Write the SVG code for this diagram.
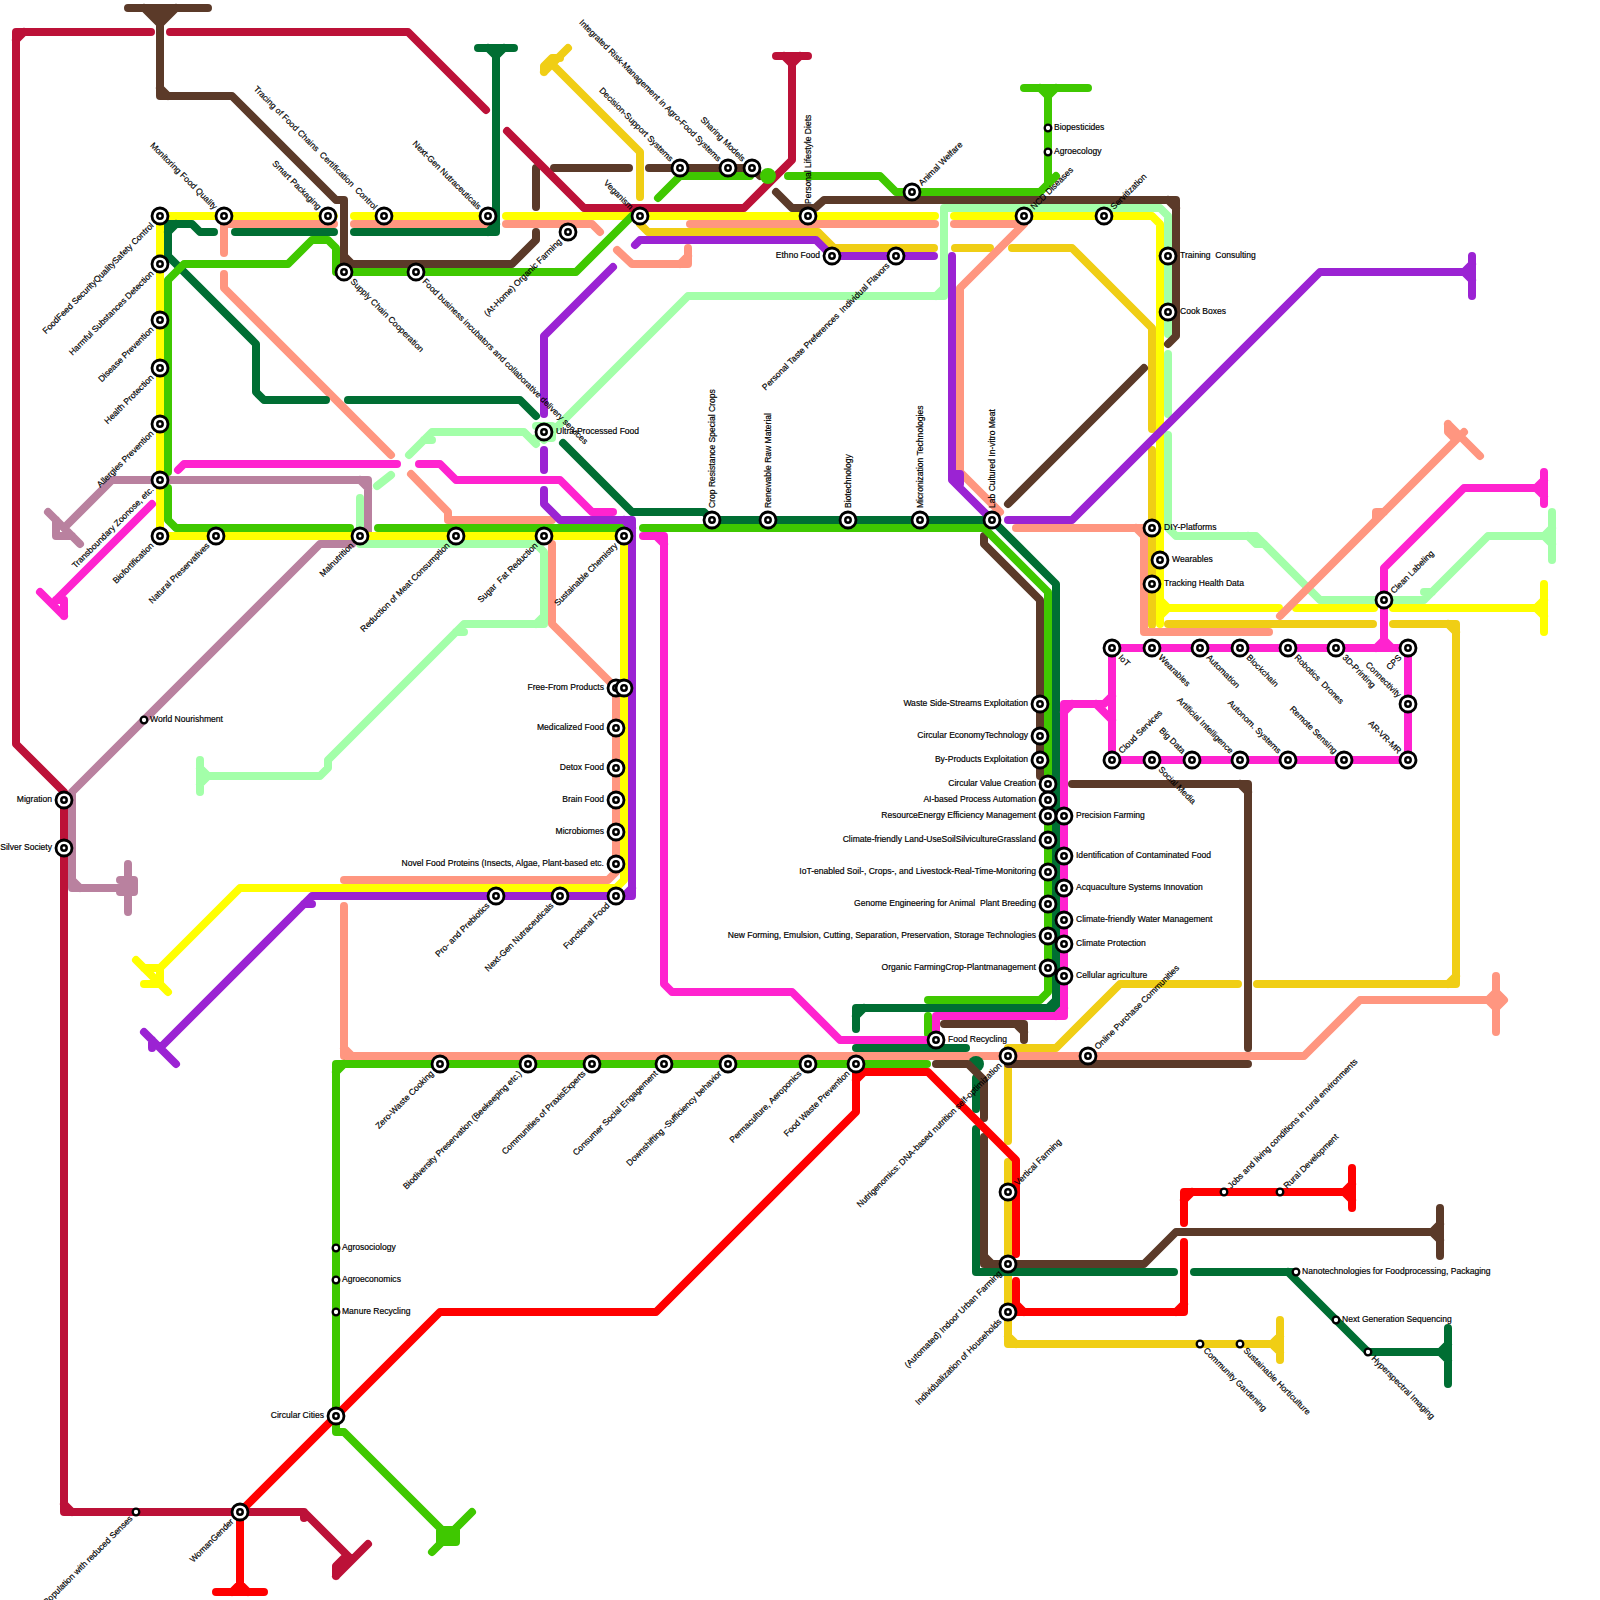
<svg xmlns="http://www.w3.org/2000/svg" width="1600" height="1600" viewBox="0 0 1600 1600">
<style>
text{font-family:"Liberation Sans",Arial,sans-serif;font-size:8.55px;fill:#000;stroke:#000;stroke-width:.18px;dominant-baseline:central;white-space:pre}
.e{text-anchor:end}
path{fill:none;stroke-width:8;stroke-linecap:round;stroke-linejoin:round}
.crimson{stroke:#bc1138}.brown{stroke:#5b3a29}.green{stroke:#3fc800}.lime{stroke:#a3ffa9}.salmon{stroke:#ff9680}
.magenta{stroke:#ff23cf}.purple{stroke:#9b23d3}.gold{stroke:#f0ce15}.yellow{stroke:#ffff00}.red{stroke:#ff0000}.dark{stroke:#006e33}.mauve{stroke:#b9819f}
</style>
<defs>
<g id="b"><circle r="8" fill="#fff" stroke="#000" stroke-width="2.8"/><circle r="2.7" fill="#fff" stroke="#000" stroke-width="2.5"/></g>
<circle id="t" r="3.3" fill="#fff" stroke="#000" stroke-width="2.3"/>
</defs>
<g id="connectors">
<path class="mauve" d="M48 512L80 544M56 520V536H72M64 528L112 480H368V532M360 480L368 488M352 544H320L72 792V888H128M128 864V912M120 880H134V892H120M72 880L80 888"/>
<path class="lime" d="M200 760V792M208 776L200 768M208 776L200 784M200 776H320L328 768V760L464 624H544V552L536 544H360M456 632H464M536 624L544 616M360 498V536M377 486L391 475M409 455L432 432H524L536 444M424 440H432M544 440L688 296H944V208H1160L1168 216V334M936 296L944 288M1168 354V414M1168 435V528L1176 536H1256L1320 600H1424L1488 536H1552M1552 512V560M1544 536L1552 528M1544 536L1552 544M536 426H552V438H536M1248 536L1256 544H1264M1424 592H1432"/>
<path class="yellow" d="M160 216H334M354 216H488M506 216H935M954 216H1152L1160 224V624M1160 600L1168 608H1279M1296 608H1374M1393 608H1544M1160 616L1168 608M1544 584V632M1536 608L1544 600M1536 608L1544 616M160 216V536H624V880L616 888H240L160 968M136 960L168 992M144 968H160V984H144"/>
<path class="gold" d="M640 197V152L552 64M544 72L568 48M544 72V66L552 58H560M640 224L648 232H818L834 248H934M955 248H990M1012 248H1072L1152 328V429M1152 450V625M1168 624H1373M1393 624H1456V984H1257M1448 624L1456 632M1448 984L1456 976M1238 984H1120L1056 1048H1008V1141M1008 1162V1344H1280M1008 1336L1016 1344M1280 1320V1360M1272 1344L1280 1336M1272 1344L1280 1352"/>
<path class="salmon" d="M224 224H334M354 224H486M506 224H592L600 232M617 250L632 264H688V248M688 256L680 264M690 224H935M954 224H1016M1024 224L960 288V472L1000 512M1016 528H1144V632H1269M1136 528L1144 536M224 224V253M224 274V288L391 455M411 474L448 512V520H552M552 544V624L616 688V872L608 880H344M344 906V1056H1304L1360 1000H1496M344 1048L352 1056M1496 976V1032M1488 1000L1496 992L1504 1000L1496 1008ZM1280 616L1464 432M1448 424L1480 456M1448 424V432L1456 440M1376 512H1384M1376 512V518"/>
<path class="dark" d="M478 48H514M488 48L496 56L504 48M496 48V232H354M488 232L496 224M334 232H235M214 232H200L192 224H168V256L256 344V392L264 400H326M348 400H520L536 416M168 232L176 224M563 443L632 512H704L712 520H992L1056 584V1008H856V1029M856 1016L864 1008M1048 1008L1056 1000M856 1048H966M976 1078V1109M976 1129V1272H1174M1194 1272H1296M1288 1272L1368 1352H1448M1448 1328V1384M1440 1352L1448 1344M1440 1352L1448 1360"/>
<circle cx="976" cy="1064" r="8" fill="#006e33"/>
<path class="brown" d="M128 8H208M144 8L160 24L176 8M150 12H170M156 17H164M160 8V96H232L336 200H344V264H512L536 240V232M160 88L168 96M344 256L352 264M536 207V168M554 168H629M649 168H752L760 176M776 192L792 208H815L824 200H1176V336L1168 344M1168 200L1176 208M1144 368L1008 504M984 536V544L1040 600V776M1072 784H1248V1048M1240 784L1248 792M1248 1064H1008M936 1064H968L984 1080V1118M984 1137V1264H1144L1176 1232H1440M984 1256L992 1264M1440 1208V1256M1432 1232L1440 1224M1432 1232L1440 1240M944 1024H1024V1040M1016 1024L1024 1032"/>
<path class="green" d="M336 272V248L328 240H312L288 264H184L168 280V472M168 488V520L176 528H350M378 528H628M643 528H984L1048 592V992L1040 1000H928M344 272H576L632 216M658 198L680 176H750M788 176H880L896 192H1040L1056 176M1048 184V88M1024 88H1088M1040 88L1048 96L1056 88M928 1016V1034M927 1064H336V1432H344L448 1536M336 1072L344 1064M432 1552L472 1512M440 1530H456V1542H440Z"/>
<path class="crimson" d="M352 1560L304 1512H64V792L16 744V32H151M16 40L24 32M64 1504L72 1512M304 1512V1518M336 1576L368 1544M336 1576V1566L344 1558H352M170 32H408L486 110M507 131L584 208H744L792 160V56M776 56H808M784 56L792 64L800 56"/>
<circle cx="768" cy="176" r="8" fill="#3fc800"/>
<path class="red" d="M240 1592V1512L440 1312H656L856 1112V1072H928L1012 1156L1016 1160V1254M856 1080L864 1072M216 1592H264M232 1592L240 1584L248 1592M1016 1281V1312H1184V1242M1016 1304L1024 1312M1176 1312L1184 1304M1184 1223V1192H1352M1184 1200L1192 1192M1352 1168V1208M1344 1192L1352 1184M1344 1192L1352 1200"/>
<path class="magenta" d="M178 470L184 464H397M419 464H440L456 480H560L592 512H613M643 536H664V984L672 992H792L840 1040H936V1016H1064V704H1104L1112 696M656 536L664 544M1096 704L1112 720M1064 712L1072 704M1056 1016L1064 1008M1112 648H1408V760H1112ZM1384 648V568L1464 488H1544M1544 472V504M1536 488L1544 480M1536 488L1544 496M1376 648L1384 640L1392 648M152 504L56 600M40 592L64 616M56 600H64V616"/>
<path class="purple" d="M144 1032L176 1064M152 1048V1040M160 1048L312 896H632V520H560L544 504V490M304 904H312M624 896L632 888M624 520L632 528M544 470V450M544 414V336L613 267M635 245L640 240H816L832 256H934M952 256V480L992 520M952 474L960 474V484M1008 520H1072L1320 272H1472M1472 256V296M1464 272L1472 264M1464 272L1472 280"/>
</g>
<g id="n1"><use href="#b" x="160" y="216"/><text class="e" x="152" y="224" transform="rotate(-45 152 224)">FoodFeed SecurityQualitySafety Control</text></g>
<g id="n2"><use href="#b" x="160" y="264"/><text class="e" x="152" y="272" transform="rotate(-45 152 272)">Harmful Substances Detection</text></g>
<g id="n3"><use href="#b" x="160" y="320"/><text class="e" x="152" y="328" transform="rotate(-45 152 328)">Disease Prevention</text></g>
<g id="n4"><use href="#b" x="160" y="368"/><text class="e" x="152" y="376" transform="rotate(-45 152 376)">Health Protection</text></g>
<g id="n5"><use href="#b" x="160" y="424"/><text class="e" x="152" y="432" transform="rotate(-45 152 432)">Allergies Prevention</text></g>
<g id="n6"><use href="#b" x="160" y="480"/><text class="e" x="152" y="488" transform="rotate(-45 152 488)">Transboundary Zoonose, etc.</text></g>
<g id="n7"><use href="#b" x="160" y="536"/><text class="e" x="152" y="544" transform="rotate(-45 152 544)">Biofortification</text></g>
<g id="n8"><use href="#b" x="216" y="536"/><text class="e" x="208" y="544" transform="rotate(-45 208 544)">Natural Preservatives</text></g>
<g id="n9"><use href="#b" x="360" y="536"/><text class="e" x="352" y="544" transform="rotate(-45 352 544)">Malnutrition</text></g>
<g id="n10"><use href="#b" x="456" y="536"/><text class="e" x="448" y="544" transform="rotate(-45 448 544)">Reduction of Meat Consumption</text></g>
<g id="n11"><use href="#b" x="544" y="536"/><text class="e" x="536" y="544" transform="rotate(-45 536 544)">Sugar  Fat Reduction</text></g>
<g id="n12"><use href="#b" x="624" y="536"/><text class="e" x="616" y="544" transform="rotate(-45 616 544)">Sustainable Chemistry</text></g>
<g id="n13"><use href="#b" x="224" y="216"/><text class="e" x="216" y="208" transform="rotate(45 216 208)">Monitoring Food Quality</text></g>
<g id="n14"><use href="#b" x="328" y="216"/><text class="e" x="320" y="208" transform="rotate(45 320 208)">Smart Packaging</text></g>
<g id="n15"><use href="#b" x="384" y="216"/><text class="e" x="376" y="208" transform="rotate(45 376 208)">Tracing of Food Chains  Certification  Control</text></g>
<g id="n16"><use href="#b" x="488" y="216"/><text class="e" x="480" y="208" transform="rotate(45 480 208)">Next-Gen Nutraceuticals</text></g>
<g id="n17"><use href="#b" x="344" y="272"/><text x="352" y="280" transform="rotate(45 352 280)">Supply Chain Cooperation</text></g>
<g id="n18"><use href="#b" x="416" y="272"/><text x="424" y="280" transform="rotate(45 424 280)">Food business incubators and collaborative delivery services</text></g>
<g id="n19"><use href="#b" x="568" y="232"/><text class="e" x="560" y="240" transform="rotate(-45 560 240)">(At-Home) Organic Farming</text></g>
<g id="n20"><use href="#b" x="640" y="216"/><text class="e" x="632" y="208" transform="rotate(45 632 208)">Veganism</text></g>
<g id="n21"><use href="#b" x="680" y="168"/><text class="e" x="672" y="160" transform="rotate(45 672 160)">Decision-Support Systems</text></g>
<g id="n22"><use href="#b" x="728" y="168"/><text class="e" x="720" y="160" transform="rotate(45 720 160)">Integrated Risk-Management in Agro-Food Systems</text></g>
<g id="n23"><use href="#b" x="752" y="168"/><text class="e" x="744" y="160" transform="rotate(45 744 160)">Sharing Models</text></g>
<g id="n24"><use href="#b" x="808" y="216"/><text x="808" y="204" transform="rotate(-90 808 204)">Personal Lifestyle Diets</text></g>
<g id="n25"><use href="#b" x="912" y="192"/><text x="920" y="184" transform="rotate(-45 920 184)">Animal Welfare</text></g>
<g id="n26"><use href="#b" x="1024" y="216"/><text x="1032" y="208" transform="rotate(-45 1032 208)">NCD Diseases</text></g>
<g id="n27"><use href="#b" x="1104" y="216"/><text x="1112" y="208" transform="rotate(-45 1112 208)">Servitization</text></g>
<g id="n28"><use href="#b" x="832" y="256"/><text class="e" x="820" y="255">Ethno Food</text></g>
<g id="n29"><use href="#b" x="896" y="256"/><text class="e" x="888" y="264" transform="rotate(-45 888 264)">Personal Taste Preferences  Individual Flavors</text></g>
<g id="n30"><use href="#b" x="544" y="432"/><text x="556" y="431">Ultra-Processed Food</text></g>
<g id="n31"><use href="#b" x="712" y="520"/><text x="712" y="508" transform="rotate(-90 712 508)">Crop Resistance Special Crops</text></g>
<g id="n32"><use href="#b" x="768" y="520"/><text x="768" y="508" transform="rotate(-90 768 508)">Renewable Raw Material</text></g>
<g id="n33"><use href="#b" x="848" y="520"/><text x="848" y="508" transform="rotate(-90 848 508)">Biotechnology</text></g>
<g id="n34"><use href="#b" x="920" y="520"/><text x="920" y="508" transform="rotate(-90 920 508)">Micronization Technologies</text></g>
<g id="n35"><use href="#b" x="992" y="520"/><text x="992" y="508" transform="rotate(-90 992 508)">Lab Cultured In-vitro Meat</text></g>
<g id="n36"><use href="#b" x="1168" y="256"/><text x="1180" y="255">Training  Consulting</text></g>
<g id="n37"><use href="#b" x="1168" y="312"/><text x="1180" y="311">Cook Boxes</text></g>
<g id="n38"><use href="#b" x="1152" y="528"/><text x="1164" y="527">DIY-Platforms</text></g>
<g id="n39"><use href="#b" x="1160" y="560"/><text x="1172" y="559">Wearables</text></g>
<g id="n40"><use href="#b" x="1152" y="584"/><text x="1164" y="583">Tracking Health Data</text></g>
<g id="n41"><use href="#b" x="1384" y="600"/><text x="1392" y="592" transform="rotate(-45 1392 592)">Clean Labeling</text></g>
<g id="n42"><use href="#b" x="1112" y="648"/><text x="1120" y="656" transform="rotate(45 1120 656)">IoT</text></g>
<g id="n43"><use href="#b" x="1152" y="648"/><text x="1160" y="656" transform="rotate(45 1160 656)">Wearables</text></g>
<g id="n44"><use href="#b" x="1200" y="648"/><text x="1208" y="656" transform="rotate(45 1208 656)">Automation</text></g>
<g id="n45"><use href="#b" x="1240" y="648"/><text x="1248" y="656" transform="rotate(45 1248 656)">Blockchain</text></g>
<g id="n46"><use href="#b" x="1288" y="648"/><text x="1296" y="656" transform="rotate(45 1296 656)">Robotics  Drones</text></g>
<g id="n47"><use href="#b" x="1336" y="648"/><text x="1344" y="656" transform="rotate(45 1344 656)">3D-Printing</text></g>
<g id="n48"><use href="#b" x="1408" y="648"/><text class="e" x="1400" y="656" transform="rotate(-45 1400 656)">CPS</text></g>
<g id="n49"><use href="#b" x="1408" y="704"/><text class="e" x="1400" y="696" transform="rotate(45 1400 696)">Connectivity</text></g>
<g id="n50"><use href="#b" x="1408" y="760"/><text class="e" x="1400" y="752" transform="rotate(45 1400 752)">AR-VR-MR</text></g>
<g id="n51"><use href="#b" x="1344" y="760"/><text class="e" x="1336" y="752" transform="rotate(45 1336 752)">Remote Sensing</text></g>
<g id="n52"><use href="#b" x="1288" y="760"/><text class="e" x="1280" y="752" transform="rotate(45 1280 752)">Autonom. Systems</text></g>
<g id="n53"><use href="#b" x="1240" y="760"/><text class="e" x="1232" y="752" transform="rotate(45 1232 752)">Artificial Intelligence</text></g>
<g id="n54"><use href="#b" x="1192" y="760"/><text class="e" x="1184" y="752" transform="rotate(45 1184 752)">Big Data</text></g>
<g id="n55"><use href="#b" x="1112" y="760"/><text x="1120" y="752" transform="rotate(-45 1120 752)">Cloud Services</text></g>
<g id="n56"><use href="#b" x="1152" y="760"/><text x="1160" y="768" transform="rotate(45 1160 768)">Social Media</text></g>
<g id="n57"><use href="#b" x="616" y="688"/><text class="e" x="604" y="687">Free-From Products</text></g>
<g id="n58"><use href="#b" x="624" y="688"/></g>
<g id="n59"><use href="#b" x="616" y="728"/><text class="e" x="604" y="727">Medicalized Food</text></g>
<g id="n60"><use href="#b" x="616" y="768"/><text class="e" x="604" y="767">Detox Food</text></g>
<g id="n61"><use href="#b" x="616" y="800"/><text class="e" x="604" y="799">Brain Food</text></g>
<g id="n62"><use href="#b" x="616" y="832"/><text class="e" x="604" y="831">Microbiomes</text></g>
<g id="n63"><use href="#b" x="616" y="864"/><text class="e" x="604" y="863">Novel Food Proteins (Insects, Algae, Plant-based etc.</text></g>
<g id="n64"><use href="#b" x="616" y="896"/><text class="e" x="608" y="904" transform="rotate(-45 608 904)">Functional Food</text></g>
<g id="n65"><use href="#b" x="560" y="896"/><text class="e" x="552" y="904" transform="rotate(-45 552 904)">Next-Gen Nutraceuticals</text></g>
<g id="n66"><use href="#b" x="496" y="896"/><text class="e" x="488" y="904" transform="rotate(-45 488 904)">Pro- and Prebiotics</text></g>
<g id="n67"><use href="#t" x="144" y="720"/><text x="150" y="719">World Nourishment</text></g>
<g id="n68"><use href="#b" x="64" y="800"/><text class="e" x="52" y="799">Migration</text></g>
<g id="n69"><use href="#b" x="64" y="848"/><text class="e" x="52" y="847">Silver Society</text></g>
<g id="n70"><use href="#b" x="1040" y="704"/><text class="e" x="1028" y="703">Waste Side-Streams Exploitation</text></g>
<g id="n71"><use href="#b" x="1040" y="736"/><text class="e" x="1028" y="735">Circular EconomyTechnology</text></g>
<g id="n72"><use href="#b" x="1040" y="760"/><text class="e" x="1028" y="759">By-Products Exploitation</text></g>
<g id="n73"><use href="#b" x="1048" y="784"/><text class="e" x="1036" y="783">Circular Value Creation</text></g>
<g id="n74"><use href="#b" x="1048" y="800"/><text class="e" x="1036" y="799">AI-based Process Automation</text></g>
<g id="n75"><use href="#b" x="1048" y="816"/><text class="e" x="1036" y="815">ResourceEnergy Efficiency Management</text></g>
<g id="n76"><use href="#b" x="1048" y="840"/><text class="e" x="1036" y="839">Climate-friendly Land-UseSoilSilvicultureGrassland</text></g>
<g id="n77"><use href="#b" x="1048" y="872"/><text class="e" x="1036" y="871">IoT-enabled Soil-, Crops-, and Livestock-Real-Time-Monitoring</text></g>
<g id="n78"><use href="#b" x="1048" y="904"/><text class="e" x="1036" y="903">Genome Engineering for Animal  Plant Breeding</text></g>
<g id="n79"><use href="#b" x="1048" y="936"/><text class="e" x="1036" y="935">New Forming, Emulsion, Cutting, Separation, Preservation, Storage Technologies</text></g>
<g id="n80"><use href="#b" x="1048" y="968"/><text class="e" x="1036" y="967">Organic FarmingCrop-Plantmanagement</text></g>
<g id="n81"><use href="#b" x="1064" y="816"/><text x="1076" y="815">Precision Farming</text></g>
<g id="n82"><use href="#b" x="1064" y="856"/><text x="1076" y="855">Identification of Contaminated Food</text></g>
<g id="n83"><use href="#b" x="1064" y="888"/><text x="1076" y="887">Acquaculture Systems Innovation</text></g>
<g id="n84"><use href="#b" x="1064" y="920"/><text x="1076" y="919">Climate-friendly Water Management</text></g>
<g id="n85"><use href="#b" x="1064" y="944"/><text x="1076" y="943">Climate Protection</text></g>
<g id="n86"><use href="#b" x="1064" y="976"/><text x="1076" y="975">Cellular agriculture</text></g>
<g id="n87"><use href="#b" x="440" y="1064"/><text class="e" x="432" y="1072" transform="rotate(-45 432 1072)">Zero-Waste Cooking</text></g>
<g id="n88"><use href="#b" x="528" y="1064"/><text class="e" x="520" y="1072" transform="rotate(-45 520 1072)">Biodiversity Preservation (Beekeeping etc.)</text></g>
<g id="n89"><use href="#b" x="592" y="1064"/><text class="e" x="584" y="1072" transform="rotate(-45 584 1072)">Communities of PraxisExperts</text></g>
<g id="n90"><use href="#b" x="664" y="1064"/><text class="e" x="656" y="1072" transform="rotate(-45 656 1072)">Consumer Social Engagement</text></g>
<g id="n91"><use href="#b" x="728" y="1064"/><text class="e" x="720" y="1072" transform="rotate(-45 720 1072)">Downshifting -Sufficiency behavior</text></g>
<g id="n92"><use href="#b" x="808" y="1064"/><text class="e" x="800" y="1072" transform="rotate(-45 800 1072)">Permaculture, Aeroponics</text></g>
<g id="n93"><use href="#b" x="856" y="1064"/><text class="e" x="848" y="1072" transform="rotate(-45 848 1072)">Food Waste Prevention</text></g>
<g id="n94"><use href="#b" x="936" y="1040"/><text x="948" y="1039">Food Recycling</text></g>
<g id="n95"><use href="#b" x="1008" y="1056"/><text class="e" x="1000" y="1064" transform="rotate(-45 1000 1064)">Nutrigenomics: DNA-based nutrition self-optimization</text></g>
<g id="n96"><use href="#b" x="1088" y="1056"/><text x="1096" y="1048" transform="rotate(-45 1096 1048)">Online Purchase Communities</text></g>
<g id="n97"><use href="#t" x="336" y="1248"/><text x="342" y="1247">Agrosociology</text></g>
<g id="n98"><use href="#t" x="336" y="1280"/><text x="342" y="1279">Agroeconomics</text></g>
<g id="n99"><use href="#t" x="336" y="1312"/><text x="342" y="1311">Manure Recycling</text></g>
<g id="n100"><use href="#b" x="336" y="1416"/><text class="e" x="324" y="1415">Circular Cities</text></g>
<g id="n101"><use href="#b" x="240" y="1512"/><text class="e" x="232" y="1520" transform="rotate(-45 232 1520)">WomanGender</text></g>
<g id="n102"><use href="#t" x="136" y="1512"/><text class="e" x="131" y="1517" transform="rotate(-45 131 1517)">Population with reduced Senses</text></g>
<g id="n103"><use href="#b" x="1008" y="1192"/><text x="1016" y="1184" transform="rotate(-45 1016 1184)">Vertical Farming</text></g>
<g id="n104"><use href="#b" x="1008" y="1264"/><text class="e" x="1000" y="1272" transform="rotate(-45 1000 1272)">(Automated) Indoor Urban Farming</text></g>
<g id="n105"><use href="#b" x="1008" y="1312"/><text class="e" x="1000" y="1320" transform="rotate(-45 1000 1320)">Individualization of Households</text></g>
<g id="n106"><use href="#t" x="1224" y="1192"/><text x="1229" y="1187" transform="rotate(-45 1229 1187)">Jobs and living conditions in rural environments</text></g>
<g id="n107"><use href="#t" x="1280" y="1192"/><text x="1285" y="1187" transform="rotate(-45 1285 1187)">Rural Development</text></g>
<g id="n108"><use href="#t" x="1296" y="1272"/><text x="1302" y="1271">Nanotechnologies for Foodprocessing, Packaging</text></g>
<g id="n109"><use href="#t" x="1336" y="1320"/><text x="1342" y="1319">Next Generation Sequencing</text></g>
<g id="n110"><use href="#t" x="1368" y="1352"/><text x="1373" y="1357" transform="rotate(45 1373 1357)">Hyperspectral Imaging</text></g>
<g id="n111"><use href="#t" x="1200" y="1344"/><text x="1205" y="1349" transform="rotate(45 1205 1349)">Community Gardening</text></g>
<g id="n112"><use href="#t" x="1240" y="1344"/><text x="1245" y="1349" transform="rotate(45 1245 1349)">Sustainable Horticulture</text></g>
<g id="n113"><use href="#t" x="1048" y="128"/><text x="1054" y="127">Biopesticides</text></g>
<g id="n114"><use href="#t" x="1048" y="152"/><text x="1054" y="151">Agroecology</text></g>
</svg>
